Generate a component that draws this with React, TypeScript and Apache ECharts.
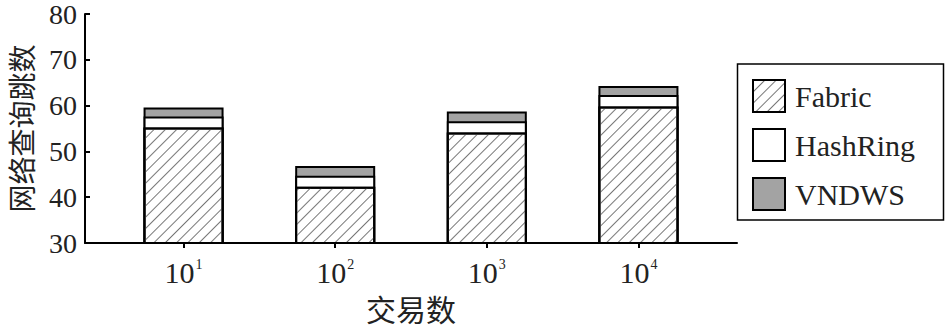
import React, { useEffect, useRef } from 'react';
import * as echarts from 'echarts';

const exponents = ['1', '2', '3', '4'];
const positions = [1, 2, 3, 4];
const fabric = [55.2, 42.3, 54.1, 59.8];
const hashRing = [2.4, 2.4, 2.5, 2.5];
const vndws = [2.0, 2.1, 2.1, 2.0];
const seriesNames = ['Fabric', 'HashRing', 'VNDWS'];
const yMin = 30;
const yMax = 80;
const yStep = 10;
const xAxisName = '交易数';
const yAxisName = '网络查询跳数';

const SERIF = '"Liberation Serif", "DejaVu Serif", "Noto Sans CJK SC", serif';
const CJK = '"Noto Sans CJK SC", "Liberation Serif", sans-serif';

export default function App() {
  const ref = useRef<HTMLDivElement>(null);
  useEffect(() => {
    if (!ref.current) return;
    const chart = echarts.init(ref.current, undefined, { renderer: 'svg' });
    const border = { borderColor: '#000', borderWidth: 2 };
    // cumulative tops for the stacked segments (drawn overlapping, tallest first)
    const top1 = fabric;
    const top2 = fabric.map((v, i) => v + hashRing[i]);
    const top3 = top2.map((v, i) => v + vndws[i]);
    const mk = (vals: number[]) => vals.map((v, i) => [positions[i], v]);
    chart.setOption({
      animation: false,
      backgroundColor: '#fff',
      grid: { left: 85, right: 209, top: 14, bottom: 87, containLabel: false, outerBoundsMode: 'none' },
      legend: {
        orient: 'vertical',
        left: 752,
        top: 79,
        padding: 0,
        itemWidth: 32,
        itemHeight: 32,
        itemGap: 15,
        icon: 'rect',
        textStyle: { fontFamily: SERIF, fontSize: 30, color: '#222', padding: [0, 0, 0, 5] },
        data: seriesNames,
      },
      xAxis: {
        type: 'value',
        min: 0.35,
        max: 4.65,
        splitLine: { show: false },
        axisLine: { show: true, onZero: false, lineStyle: { color: '#000', width: 2 } },
        axisTick: { show: true, customValues: positions, length: 5, inside: false, lineStyle: { color: '#000', width: 2 } },
        axisLabel: {
          customValues: positions,
          margin: 14,
          formatter: (v: number) => `{b|10}{s|${exponents[positions.indexOf(v)] ?? ''}}`,
          rich: {
            b: { fontFamily: SERIF, fontSize: 30, color: '#222' },
            s: { fontFamily: SERIF, fontSize: 14, color: '#222', verticalAlign: 'top', padding: [0, 0, 16, 1] },
          },
        },
        name: xAxisName,
        nameLocation: 'middle',
        nameGap: 50,
        nameTextStyle: { fontFamily: CJK, fontSize: 30, color: '#222' },
      },
      yAxis: {
        type: 'value',
        min: yMin,
        max: yMax,
        interval: yStep,
        splitLine: { show: false },
        axisLine: { show: true, lineStyle: { color: '#000', width: 2 } },
        axisTick: { show: true, inside: true, length: 5, lineStyle: { color: '#000', width: 2 } },
        axisLabel: { fontFamily: SERIF, fontSize: 28, color: '#222', margin: 8 },
        name: yAxisName,
        nameLocation: 'middle',
        nameRotate: 90,
        nameGap: 50,
        nameTextStyle: { fontFamily: CJK, fontSize: 28, color: '#222' },
      },
      series: [
        { name: seriesNames[2], type: 'bar', barWidth: 80, barGap: '-100%', data: mk(top3), itemStyle: { color: '#a3a3a3', ...border }, z: 2 },
        { name: seriesNames[1], type: 'bar', barWidth: 80, barGap: '-100%', data: mk(top2), itemStyle: { color: '#fff', ...border }, z: 3 },
        {
          name: seriesNames[0],
          type: 'bar',
          barWidth: 80,
          barGap: '-100%',
          data: mk(top1),
          z: 4,
          itemStyle: {
            color: '#fff',
            ...border,
            decal: {
              symbol: 'rect',
              symbolSize: 1,
              dashArrayX: [1, 0],
              dashArrayY: [1, 7],
              rotation: -Math.PI / 4,
              color: '#777',
              backgroundColor: '#fff',
            },
          },
        },
      ],
      graphic: [
        {
          type: 'rect',
          shape: { x: 737.5, y: 64, width: 206, height: 156 },
          style: { fill: 'none', stroke: '#000', lineWidth: 1.5 },
          z: 10,
        },
      ],
    });
    return () => chart.dispose();
  }, []);
  return <div ref={ref} style={{ width: 946, height: 330, position: 'absolute', left: 0, top: 0 }} />;
}
